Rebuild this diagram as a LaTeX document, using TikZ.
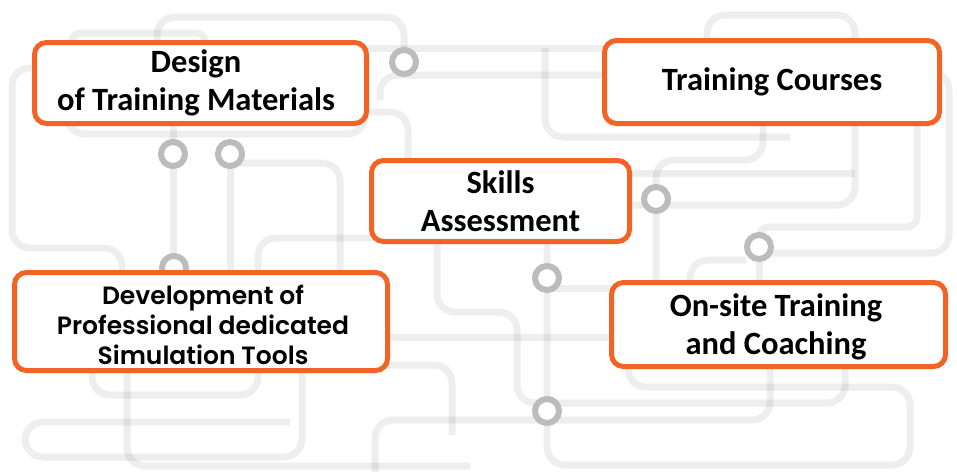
\documentclass[tikz,border=0pt]{standalone}
\usepackage{fontspec}
\setmainfont{Carlito}
\newfontfamily\devfont{Poppins}[BoldFont={Poppins SemiBold}]
\definecolor{org}{RGB}{242,99,37}
\definecolor{ringc}{RGB}{188,188,188}
\begin{document}
\begin{tikzpicture}[x=1pt,y=-1pt,
 bgline/.style={draw=black, draw opacity=0.065, line width=7pt, rounded corners=18pt},
 ring/.style={circle, draw=ringc, line width=6pt, fill=white, minimum size=24pt, inner sep=0pt},
 box/.style={draw=org, line width=5pt, rounded corners=12pt, fill=white, align=center, inner sep=0pt,
   font=\fontsize{32.5}{38}\selectfont\bfseries},
 devbox/.style={box, font=\devfont\fontsize{25}{30}\selectfont\bfseries}
]
\useasboundingbox (0,0) rectangle (957,471);
\clip (0,0) rectangle (957,471);
\fill[white] (0,0) rectangle (957,471);
% background circuit lines
\draw[bgline] (157,45) -- (157,17) -- (404,17) -- (404,50);
\draw[bgline, rounded corners=8pt] (72,45) -- (72,33) -- (205,33) -- (205,45);
\draw[bgline] (40,68) -- (12,68) -- (12,248) -- (122,248) -- (122,280);
\draw[bgline] (67,110) -- (67,134) -- (365,134) -- (365,110);
\draw[bgline] (173,120) -- (173,268);
\draw[bgline] (230,160) -- (230,280);
\draw[bgline] (236,163) -- (340,163) -- (340,280);
\draw[bgline] (360,48) -- (610,48);
\draw[bgline] (610,75) -- (380,75) -- (380,100);
\draw[bgline] (360,112) -- (408,112) -- (408,165);
\draw[bgline] (545,48) -- (545,137) -- (790,137);
\draw[bgline] (763,120) -- (763,160) -- (656,160) -- (656,290);
\draw[bgline] (625,173) -- (855,173);
\draw[bgline] (625,205) -- (855,205) -- (855,15) -- (707,15) -- (707,45);
\draw[bgline] (925,72) -- (949,72) -- (949,253) -- (770,253);
\draw[bgline, rounded corners=10pt] (759,240) -- (759,227) -- (917,227) -- (917,120);
\draw[bgline] (759,255) -- (759,290);
\draw[bgline] (547,235) -- (547,465) -- (910,465) -- (910,387) -- (628,387) -- (628,360);
\draw[bgline] (553,288) -- (620,288);
\draw[bgline] (437,235) -- (437,312) -- (517,312) -- (517,403) -- (845,403) -- (845,360);
\draw[bgline] (380,337) -- (620,337);
\draw[bgline] (375,480) -- (375,420) -- (770,420) -- (770,360);
\draw[bgline] (380,365) -- (452,365) -- (452,435);
\draw[bgline] (258,280) -- (258,238) -- (375,238);
\draw[bgline] (690,290) -- (690,260) -- (746,260);
\draw[bgline] (290,422) -- (25,422) -- (25,457) -- (302,457) -- (302,365);
\draw[bgline] (127,365) -- (127,466) -- (470,466);
\draw[bgline] (92,365) -- (92,395) -- (258,395) -- (258,365);
% rings
\node[ring] (r1) at (404,62) {};
\node[ring] (r2) at (173,154) {};
\node[ring] (r3) at (230,154) {};
\node[ring] (r4) at (174,268) {};
\node[ring] (r5) at (656,199) {};
\node[ring] (r6) at (759,247) {};
\node[ring] (r7) at (547,278) {};
\node[ring] (r8) at (547,411) {};
% boxes
\node[box, minimum width=332pt, minimum height=81pt] (design) at (200.5,83) {};
\node[align=center, font=\fontsize{32.5}{38}\selectfont\bfseries] (designt) at (196,83) {Design\\of Training Materials};
\node[box, minimum width=335pt, minimum height=83pt] (courses) at (772,82) {Training Courses};
\node[box, minimum width=258pt, minimum height=81pt] (skills) at (500.5,201) {Skills\\Assessment};
\node[box, minimum width=373pt, minimum height=98pt] (dev) at (201,321.5) {};
\node[devbox, draw=none, fill=none] (devt) at (203,325) {Development of\\Professional dedicated\\Simulation Tools};
\node[box, minimum width=334pt, minimum height=84pt] (onsite) at (778.5,324.5) {};
\node[align=center, font=\fontsize{32.5}{38}\selectfont\bfseries] (onsitet) at (776,327) {On-site Training\\and Coaching};
\end{tikzpicture}
\end{document}
